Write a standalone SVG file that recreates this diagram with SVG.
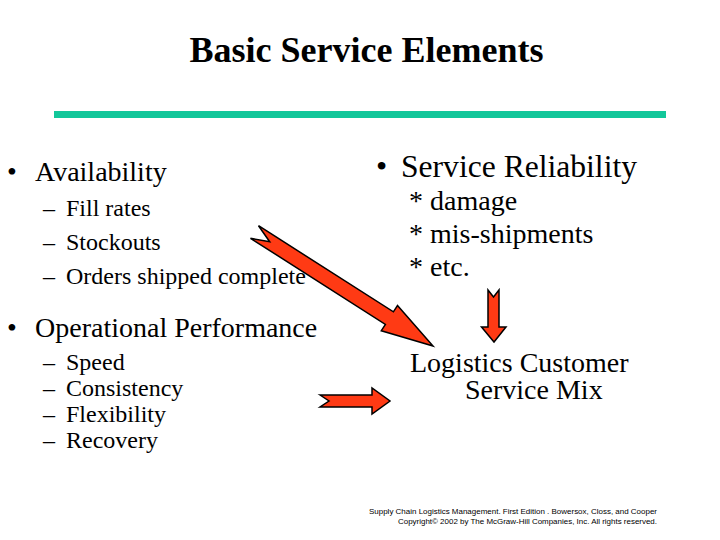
<svg xmlns="http://www.w3.org/2000/svg" width="720" height="540" viewBox="0 0 720 540">
<style>
  .t{fill:#000}
  .title{font-size:36px;font-weight:bold}
  .h{font-size:28px}
  .h2{font-size:32px}
  .s{font-size:24px}
  .foot{font-size:7.5px;fill:#000}
  .arrow{fill:#FF3A14;stroke:#000;stroke-width:1.5;stroke-linejoin:miter}
</style>
<rect width="720" height="540" fill="#fff"/>
<g font-family="'Liberation Serif', 'Times New Roman', Times, serif">
<g id="title">
  <text class="t title" x="366.5" y="62" text-anchor="middle">Basic Service Elements</text>
  <rect x="54" y="111" width="612" height="7" fill="#12C79A"/>
</g>
<g id="availability">
  <text class="t h" x="7" y="181">•</text>
  <text class="t h" x="35" y="181">Availability</text>
  <text class="t s" x="43" y="216">–</text>
  <text class="t s" x="66" y="216">Fill rates</text>
  <text class="t s" x="43" y="250">–</text>
  <text class="t s" x="66" y="250">Stockouts</text>
  <text class="t s" x="43" y="284">–</text>
  <text class="t s" x="66" y="284">Orders shipped complete</text>
</g>
<g id="operational">
  <text class="t h" x="7" y="337">•</text>
  <text class="t h" x="35" y="337">Operational Performance</text>
  <text class="t s" x="43" y="370">–</text>
  <text class="t s" x="66" y="370">Speed</text>
  <text class="t s" x="43" y="396">–</text>
  <text class="t s" x="66" y="396">Consistency</text>
  <text class="t s" x="43" y="422">–</text>
  <text class="t s" x="66" y="422">Flexibility</text>
  <text class="t s" x="43" y="448">–</text>
  <text class="t s" x="66" y="448">Recovery</text>
</g>
<g id="reliability">
  <text class="t h2" x="376" y="177">•</text>
  <text class="t h2" x="401" y="177" textLength="236" lengthAdjust="spacingAndGlyphs">Service Reliability</text>
  <text class="t h" x="409" y="210">* damage</text>
  <text class="t h" x="409" y="243">* mis-shipments</text>
  <text class="t h" x="409" y="276">* etc.</text>
</g>
<g id="mix">
  <text class="t h" x="410" y="372">Logistics Customer<tspan x="465" dy="27">Service Mix</tspan></text>
</g>
</g>
<g id="connectors">
  <polygon class="arrow" points="258.5,225.7 393.4,311.8 397.5,305.5 433,346 381.3,330.7 385.4,324.4 250.5,238.3 269.7,241.7"/>
  <polygon class="arrow" points="488,290 493.5,297 499,290 499,327 506,327 494,342 481.5,327 488,327"/>
  <polygon class="arrow" points="320,395 329,401 320,407 372,407 372,414 390,401 372,388 372,395"/>
</g>
<g id="footer" font-family="'Liberation Sans', Arial, sans-serif">
  <text class="foot" x="657" y="514" text-anchor="end" textLength="288" lengthAdjust="spacingAndGlyphs">Supply Chain Logistics Management. First Edition . Bowersox, Closs, and Cooper</text>
  <text class="foot" x="657" y="524" text-anchor="end" textLength="259" lengthAdjust="spacingAndGlyphs">Copyright© 2002 by The McGraw-Hill Companies, Inc. All rights reserved.</text>
</g>
</svg>
